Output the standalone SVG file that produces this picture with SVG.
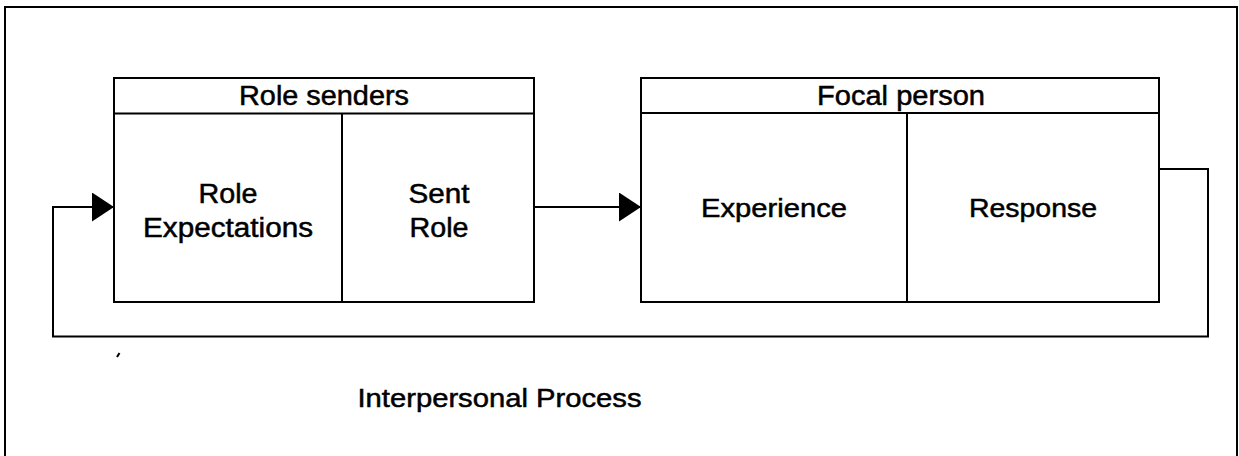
<svg xmlns="http://www.w3.org/2000/svg" width="1239" height="456" viewBox="0 0 1239 456">
<style>
.box{fill:none;stroke:#000;stroke-width:2}
.ln{fill:none;stroke:#000;stroke-width:2}
.t{font-family:"Liberation Sans",Arial,sans-serif;font-size:26px;fill:#000;stroke:#000;stroke-width:0.5;text-anchor:middle}
.h{font-size:27px}
</style>
<defs>
<marker id="arr" viewBox="0 0 22 29" refX="22" refY="14.5" markerWidth="22" markerHeight="29" markerUnits="userSpaceOnUse" orient="auto">
<path d="M0,0 L22,14.5 L0,29 Z" fill="#000"/>
</marker>
</defs>
<rect width="1239" height="456" fill="#fff"/>
<g id="frame">
<rect class="box" x="5" y="7" width="1232" height="470"/>
</g>
<g id="role-senders">
<rect class="box" x="114" y="78" width="420" height="224"/>
<line class="ln" x1="114" y1="113.5" x2="534" y2="113.5"/>
<line class="ln" x1="342" y1="113.5" x2="342" y2="302"/>
<text class="t h" x="324" y="105" textLength="170" lengthAdjust="spacingAndGlyphs">Role senders</text>
<text class="t h" x="228" y="203" textLength="59" lengthAdjust="spacingAndGlyphs">Role</text>
<text class="t h" x="228" y="236.5" textLength="170" lengthAdjust="spacingAndGlyphs">Expectations</text>
<text class="t h" x="439" y="203" textLength="61" lengthAdjust="spacingAndGlyphs">Sent</text>
<text class="t h" x="439" y="236.5" textLength="59" lengthAdjust="spacingAndGlyphs">Role</text>
</g>
<g id="focal-person">
<rect class="box" x="641" y="78" width="518" height="224"/>
<line class="ln" x1="641" y1="113" x2="1159" y2="113"/>
<line class="ln" x1="907" y1="113" x2="907" y2="302"/>
<text class="t h" x="901" y="104.5" textLength="168" lengthAdjust="spacingAndGlyphs">Focal person</text>
<text class="t" x="774" y="217" textLength="146" lengthAdjust="spacingAndGlyphs">Experience</text>
<text class="t" x="1033" y="217" textLength="128" lengthAdjust="spacingAndGlyphs">Response</text>
</g>
<g id="connectors">
<path class="ln" d="M534,207 L641,207" marker-end="url(#arr)"/>
<path class="ln" d="M1159,169 L1208,169 L1208,336.5 L53,336.5 L53,207 L114,207" marker-end="url(#arr)"/>
</g>
<g id="label">
<line class="ln" x1="117" y1="357" x2="119.5" y2="353"/>
<text class="t" x="499.5" y="406.5" textLength="284" lengthAdjust="spacingAndGlyphs">Interpersonal Process</text>
</g>
</svg>
